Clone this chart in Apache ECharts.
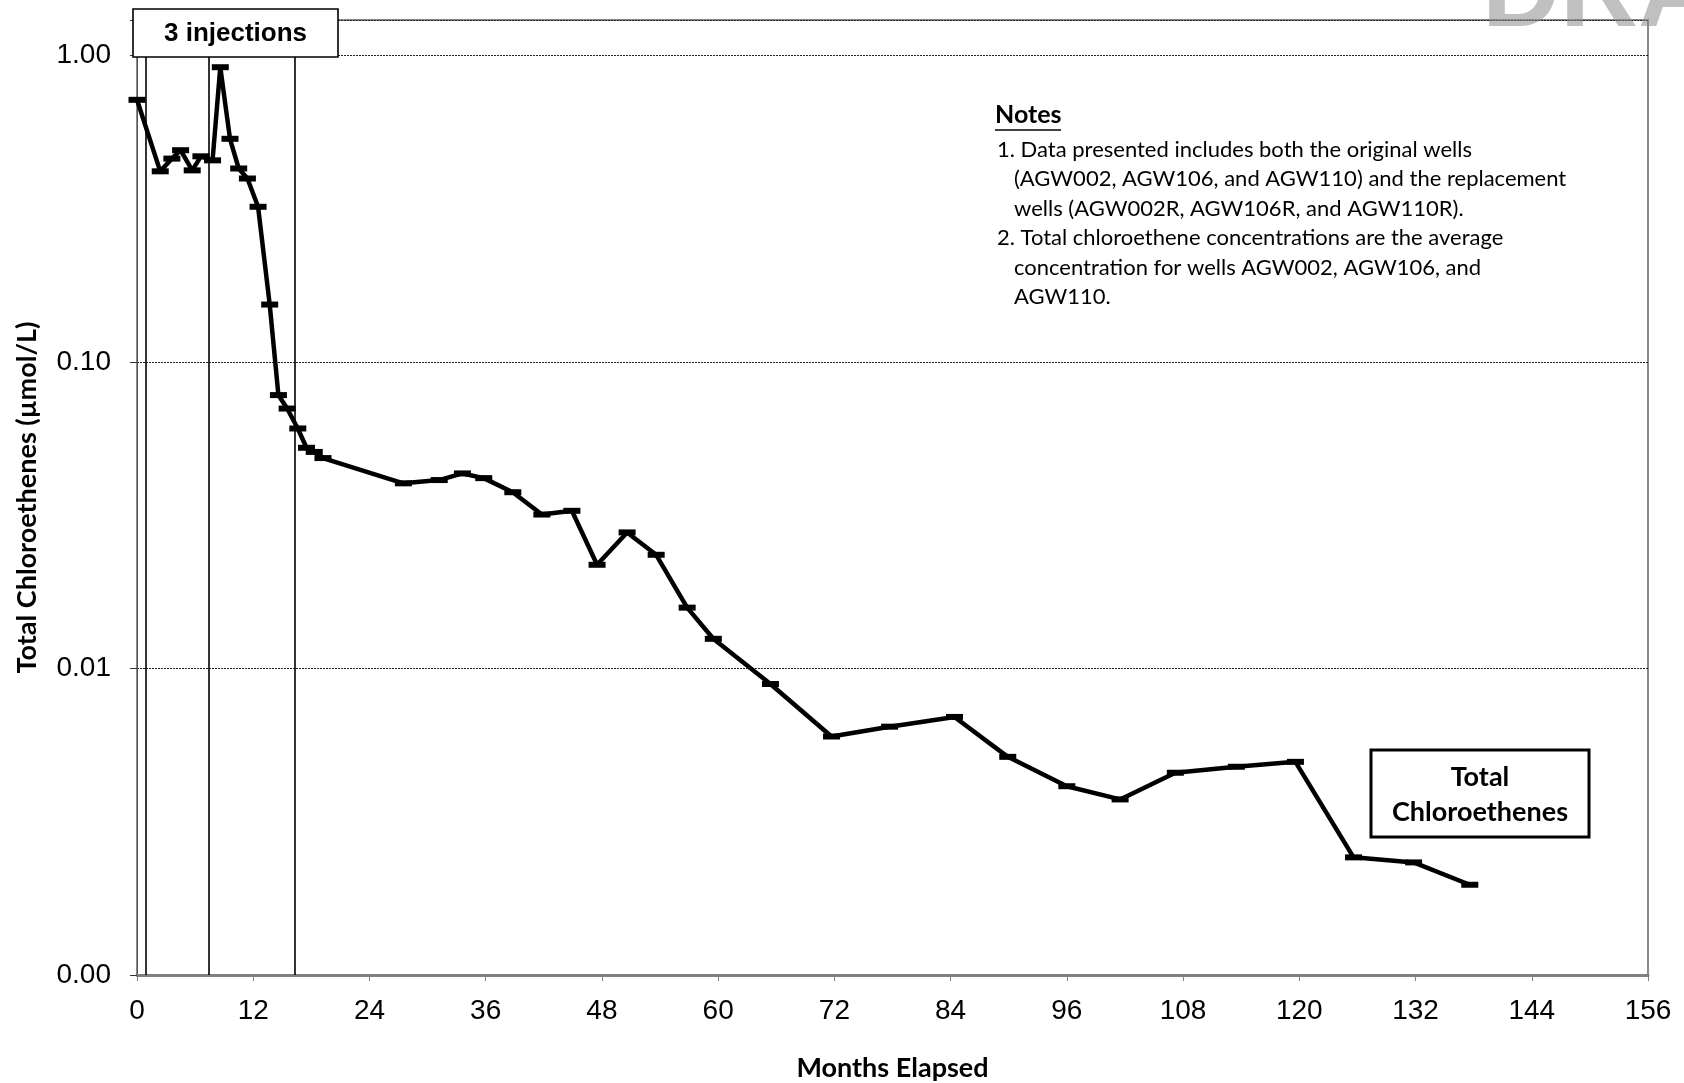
<!DOCTYPE html>
<html>
<head>
<meta charset="utf-8">
<script src="https://cdn.jsdelivr.net/npm/echarts@6/dist/echarts.min.js"></script>
<style>
html,body{margin:0;padding:0;background:#fff;}
#chart{width:1684px;height:1083px;}
</style>
</head>
<body>
<div id="chart"></div>
<script>
// Months elapsed of each sample
var months = [0, 2.4, 3.6, 4.5, 5.7, 6.6, 7.8, 8.6, 9.6, 10.5,
  11.4, 12.5, 13.7, 14.6, 15.5, 16.6, 17.5, 18.3, 19.2, 27.5,
  31.2, 33.6, 35.8, 38.8, 41.8, 44.9, 47.5, 50.6, 53.6, 56.8,
  59.5, 65.4, 71.7, 77.7, 84.4, 89.9, 96.0, 101.5, 107.2, 113.5,
  119.6, 125.6, 131.8, 137.6];
// Total chloroethenes (µmol/L)
var totalChloroethenes = [0.717, 0.419, 0.461, 0.491, 0.422, 0.469, 0.455, 0.916, 0.535, 0.428,
  0.397, 0.321, 0.154, 0.078, 0.0705, 0.0607, 0.0525, 0.0509, 0.0486, 0.0402,
  0.0412, 0.0433, 0.0418, 0.0376, 0.0318, 0.0327, 0.0218, 0.0278, 0.0235, 0.0158,
  0.0125, 0.0089, 0.0060, 0.00646, 0.00695, 0.00515, 0.00413, 0.00374, 0.00457, 0.00478,
  0.00496, 0.00242, 0.00233, 0.00197];
// Injection events (months)
var injectionMonths = [0.9, 7.4, 16.3];
// Axis ticks
var xTicks = [0, 12, 24, 36, 48, 60, 72, 84, 96, 108, 120, 132, 144, 156];
var yTicks = [0.001, 0.01, 0.1, 1];
var yTickLabels = ['0.00', '0.01', '0.10', '1.00'];
var notesLines = [
  '1. Data presented includes both the original wells',
  '(AGW002, AGW106, and AGW110) and the replacement',
  'wells (AGW002R, AGW106R, and AGW110R).',
  '2. Total chloroethene concentrations are the average',
  'concentration for wells AGW002, AGW106, and',
  'AGW110.'
];

var data = months.map(function (m, i) { return [m, totalChloroethenes[i]]; });

var chart = echarts.init(document.getElementById('chart'), null, {renderer: 'canvas'});

var noteGraphics = [];
var noteIndent = [0, 1, 1, 0, 1, 1];
notesLines.forEach(function (t, i) {
  noteGraphics.push({
    type: 'text', left: noteIndent[i] ? 1014 : 997, top: 139 + i * 29.4,
    style: {text: t, font: '22px Lato', fill: '#000'}
  });
});

var option = {
  animation: false,
  backgroundColor: '#fff',
  grid: {left: 137, right: 36, top: 20, bottom: 108, show: true, containLabel: false,
    outerBoundsMode: 'none',
    borderColor: '#8a8a8a', borderWidth: 2, backgroundColor: 'transparent'},
  xAxis: {
    type: 'value', min: xTicks[0], max: xTicks[xTicks.length - 1], interval: 12,
    name: 'Months Elapsed', nameLocation: 'middle', nameGap: 80,
    nameTextStyle: {fontFamily: 'Lato', fontWeight: 'bold', fontSize: 27, color: '#000'},
    axisLine: {show: true, lineStyle: {color: '#808080', width: 3}},
    axisTick: {show: true, length: 6, lineStyle: {color: '#808080', width: 1}},
    axisLabel: {fontFamily: 'Liberation Sans', fontSize: 28, color: '#000', margin: 22},
    splitLine: {show: false}
  },
  yAxis: {
    type: 'log', logBase: 10, min: yTicks[0], max: 1.306,
    name: 'Total Chloroethenes (µmol/L)', nameLocation: 'middle', nameGap: 96,
    nameTextStyle: {fontFamily: 'Lato', fontWeight: 'bold', fontSize: 27, color: '#000'},
    axisLine: {show: true, lineStyle: {color: '#555', width: 1}},
    axisTick: {show: true, length: 7, lineStyle: {color: '#333', width: 1}},
    axisLabel: {
      fontFamily: 'Liberation Sans', fontSize: 28, color: '#000', margin: 26,
      formatter: function (v) {
        for (var i = 0; i < yTicks.length; i++) {
          if (Math.abs(Math.log10(v) - Math.log10(yTicks[i])) < 1e-6) return yTickLabels[i];
        }
        return '';
      }
    },
    splitLine: {show: true, lineStyle: {color: '#222', type: [2, 1], width: 1}}
  },
  series: [
    {
      type: 'line', data: data, symbol: 'rect', symbolSize: [17, 6],
      lineStyle: {color: '#000', width: 4.5}, itemStyle: {color: '#000'},
      z: 5,
      markLine: {
        silent: true, symbol: 'none', label: {show: false},
        lineStyle: {color: '#000', width: 1.6, type: 'solid'},
        data: injectionMonths.map(function (m) { return {xAxis: m}; })
      }
    }
  ],
  graphic: [
    {type: 'text', left: 1482, top: -58, z: 1,
      style: {text: 'DRAFT', font: 'bold 108px "Liberation Sans"', fill: 'rgba(140,140,140,0.55)'}},
    {type: 'rect', shape: {x: 133, y: 9, width: 205, height: 48}, z: 100,
      style: {fill: '#fff', stroke: '#000', lineWidth: 1.6}},
    {type: 'text', x: 235.5, y: 34, z: 101,
      style: {text: '3 injections', font: 'bold 26px "Liberation Sans"', fill: '#000',
        align: 'center', verticalAlign: 'middle'}},
    {type: 'text', left: 995, top: 102, z: 50,
      style: {text: 'Notes', font: 'bold 25px Lato', fill: '#000'}},
    {type: 'line', shape: {x1: 995, y1: 130, x2: 1061, y2: 130}, z: 50,
      style: {stroke: '#000', lineWidth: 1.6}},
    {type: 'rect', shape: {x: 1371, y: 750, width: 218, height: 87}, z: 50,
      style: {fill: '#fff', stroke: '#000', lineWidth: 3}},
    {type: 'text', x: 1480, y: 777, z: 51,
      style: {text: 'Total', font: 'bold 27px Lato', fill: '#000', align: 'center', verticalAlign: 'middle'}},
    {type: 'text', x: 1480, y: 812, z: 51,
      style: {text: 'Chloroethenes', font: 'bold 27px Lato', fill: '#000', align: 'center', verticalAlign: 'middle'}}
  ].concat(noteGraphics)
};
chart.setOption(option);
</script>
</body>
</html>
